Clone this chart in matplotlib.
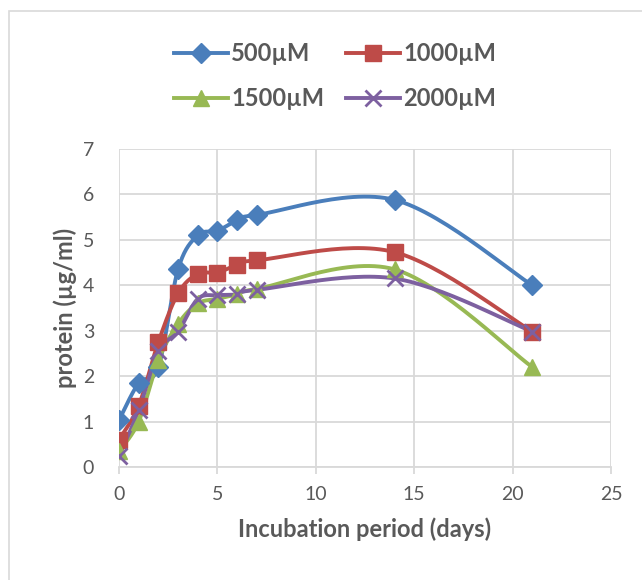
import numpy as np
import matplotlib
matplotlib.use('Agg')
import matplotlib.pyplot as plt
from matplotlib.patches import Rectangle

days = [0, 1, 2, 3, 4, 5, 6, 7, 14, 21]
series_names = ['500µM', '1000µM', '1500µM', '2000µM']
p500 = [1.03, 1.85, 2.2, 4.35, 5.1, 5.2, 5.43, 5.55, 5.88, 4.0]
p1000 = [0.6, 1.35, 2.75, 3.82, 4.25, 4.28, 4.45, 4.55, 4.73, 2.98]
p1500 = [0.35, 1.0, 2.35, 3.15, 3.6, 3.7, 3.8, 3.92, 4.35, 2.2]
p2000 = [0.25, 1.25, 2.55, 2.98, 3.7, 3.78, 3.8, 3.9, 4.15, 2.98]

colors = ['#4A7EBB', '#BE4B48', '#98B954', '#7D60A0']
markers = ['D', 's', '^', 'x']
msizes = [10, 12, 12, 12]

plt.rcParams['font.family'] = ['Lato', 'DejaVu Sans']


def smooth(x, y, n=30):
    # excel-style smoothed line (bezier with catmull-rom control points)
    x = np.asarray(x, float)
    y = np.asarray(y, float)
    px = np.concatenate([[x[0]], x, [x[-1]]])
    py = np.concatenate([[y[0]], y, [y[-1]]])
    t = np.linspace(0, 1, n)
    xs, ys = [], []
    for i in range(1, len(px) - 2):
        x0, x1 = px[i], px[i + 1]
        y0, y1 = py[i], py[i + 1]
        cx1 = x0 + (px[i + 1] - px[i - 1]) / 6
        cy1 = y0 + (py[i + 1] - py[i - 1]) / 6
        cx2 = x1 - (px[i + 2] - px[i]) / 6
        cy2 = y1 - (py[i + 2] - py[i]) / 6
        b0 = (1 - t) ** 3
        b1 = 3 * (1 - t) ** 2 * t
        b2 = 3 * (1 - t) * t ** 2
        b3 = t ** 3
        xs.append(b0 * x0 + b1 * cx1 + b2 * cx2 + b3 * x1)
        ys.append(b0 * y0 + b1 * cy1 + b2 * cy2 + b3 * y1)
    return np.concatenate(xs), np.concatenate(ys)


fig = plt.figure(figsize=(6.42, 5.8), dpi=100)
fig.patches.append(Rectangle((9 / 642, -0.1), 1.2, (580 - 11) / 580 + 0.1,
                             transform=fig.transFigure, fill=False,
                             edgecolor='#D9D9D9', lw=1.2))

ax = fig.add_axes([119 / 642, (580 - 467) / 580, (611 - 119) / 642, (467 - 149) / 580])

handles = []
for ys, c, m, ms, name in zip([p500, p1000, p1500, p2000], colors, markers, msizes, series_names):
    sx, sy = smooth(days, ys)
    ax.plot(sx, sy, color=c, lw=2.8, solid_capstyle='round', zorder=3)
    ax.plot(days, ys, ls='none', marker=m, color=c, ms=ms,
            mew=2 if m == 'x' else 1, zorder=4)
    h, = ax.plot([], [], color=c, lw=2.8, marker=m, ms=ms, mew=2 if m == 'x' else 1)
    handles.append((h, name))

ax.set_xlim(0, 25)
ax.set_ylim(0, 7)
ax.set_xticks(range(0, 26, 5))
ax.set_yticks(range(0, 8))
ax.grid(True, color='#D9D9D9', lw=1.3)
ax.set_axisbelow(True)
for s in ['top', 'right', 'left']:
    ax.spines[s].set_visible(False)
ax.spines['bottom'].set_color('#D9D9D9')
ax.spines['bottom'].set_linewidth(1.3)
ax.tick_params(axis='x', colors='#D9D9D9', length=5, width=1.3, labelcolor='#595959',
               labelsize=14, pad=9)
ax.tick_params(axis='y', length=0, labelcolor='#595959', labelsize=14, pad=18)

ax.set_xlabel('Incubation period (days)', fontsize=17, fontweight='bold', color='#595959',
              labelpad=10)
ax.set_ylabel('protein (µg/ml)', fontsize=17, fontweight='bold', color='#595959',
              labelpad=4)

# reorder so rows read 500,1000 / 1500,2000
order = [0, 2, 1, 3]
fig.legend([handles[i][0] for i in order], [handles[i][1] for i in order], ncol=2,
           loc='center', bbox_to_anchor=(335 / 642, 1 - 76 / 580), frameon=False,
           prop={'size': 17, 'weight': 'bold'}, labelcolor='#595959',
           handlelength=2.3, handletextpad=0.15, columnspacing=0.9, labelspacing=0.95)

fig.savefig('out.png', dpi=100)
